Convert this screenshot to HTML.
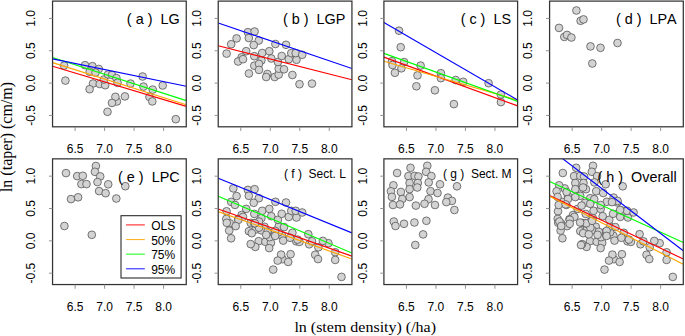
<!DOCTYPE html><html><head><meta charset="utf-8"><style>
html,body{margin:0;padding:0;background:#fff;}
svg{display:block;}
text{font-family:"Liberation Sans",sans-serif;font-kerning:none;}
.s{font-family:"Liberation Serif",serif;}
</style></head><body>
<svg width="685" height="336" viewBox="0 0 685 336">
<rect width="685" height="336" fill="#fff"/>
<defs>
<clipPath id="cpa"><rect x="52.55" y="1.10" width="133.70" height="125.70"/></clipPath>
<clipPath id="cpb"><rect x="218.23" y="1.10" width="133.70" height="125.70"/></clipPath>
<clipPath id="cpc"><rect x="383.91" y="1.10" width="133.70" height="125.70"/></clipPath>
<clipPath id="cpd"><rect x="549.59" y="1.10" width="133.70" height="125.70"/></clipPath>
<clipPath id="cpe"><rect x="52.55" y="158.85" width="133.70" height="125.70"/></clipPath>
<clipPath id="cpf"><rect x="218.23" y="158.85" width="133.70" height="125.70"/></clipPath>
<clipPath id="cpg"><rect x="383.91" y="158.85" width="133.70" height="125.70"/></clipPath>
<clipPath id="cph"><rect x="549.59" y="158.85" width="133.70" height="125.70"/></clipPath>
</defs>
<g clip-path="url(#cpa)" fill="#d3d3d3" stroke="#555" stroke-width="0.8">
<circle cx="64.1" cy="65.6" r="3.85"/>
<circle cx="65.4" cy="80.6" r="3.85"/>
<circle cx="85.0" cy="65.2" r="3.85"/>
<circle cx="92.4" cy="66.2" r="3.85"/>
<circle cx="98.8" cy="69.0" r="3.85"/>
<circle cx="89.7" cy="71.8" r="3.85"/>
<circle cx="95.5" cy="72.6" r="3.85"/>
<circle cx="93.0" cy="83.5" r="3.85"/>
<circle cx="89.6" cy="89.2" r="3.85"/>
<circle cx="99.7" cy="84.0" r="3.85"/>
<circle cx="105.2" cy="85.2" r="3.85"/>
<circle cx="104.0" cy="79.5" r="3.85"/>
<circle cx="108.0" cy="74.5" r="3.85"/>
<circle cx="112.0" cy="75.0" r="3.85"/>
<circle cx="116.4" cy="78.1" r="3.85"/>
<circle cx="117.5" cy="82.8" r="3.85"/>
<circle cx="130.5" cy="83.6" r="3.85"/>
<circle cx="142.6" cy="76.5" r="3.85"/>
<circle cx="143.5" cy="86.6" r="3.85"/>
<circle cx="152.7" cy="89.6" r="3.85"/>
<circle cx="162.7" cy="85.5" r="3.85"/>
<circle cx="116.9" cy="101.5" r="3.85"/>
<circle cx="115.4" cy="96.8" r="3.85"/>
<circle cx="124.9" cy="96.4" r="3.85"/>
<circle cx="112.0" cy="102.9" r="3.85"/>
<circle cx="107.5" cy="111.8" r="3.85"/>
<circle cx="149.5" cy="97.0" r="3.85"/>
<circle cx="152.3" cy="101.4" r="3.85"/>
<circle cx="175.8" cy="119.2" r="3.85"/>
</g>
<g clip-path="url(#cpa)" stroke-width="1.15" fill="none">
<line x1="52.55" y1="66.30" x2="186.25" y2="106.40" stroke="#ff0000"/>
<line x1="52.55" y1="62.60" x2="186.25" y2="104.70" stroke="#ffa500"/>
<line x1="52.55" y1="57.50" x2="186.25" y2="100.60" stroke="#00ff00"/>
<line x1="52.55" y1="58.90" x2="186.25" y2="86.30" stroke="#0000ff"/>
</g>
<rect x="52.55" y="1.10" width="133.70" height="125.70" fill="none" stroke="#333" stroke-width="1.25"/>
<path d="M48.95 115.44H52.55M48.95 83.10H52.55M48.95 50.77H52.55M48.95 18.43H52.55M75.10 126.80V131.00M104.59 126.80V131.00M134.08 126.80V131.00M163.57 126.80V131.00" stroke="#888" stroke-width="0.9" fill="none"/>
<text x="35.15" y="115.44" font-size="12" text-anchor="middle" transform="rotate(-90 35.15 115.44)">-0.5</text>
<text x="35.15" y="83.10" font-size="12" text-anchor="middle" transform="rotate(-90 35.15 83.10)">0.0</text>
<text x="35.15" y="50.77" font-size="12" text-anchor="middle" transform="rotate(-90 35.15 50.77)">0.5</text>
<text x="35.15" y="18.43" font-size="12" text-anchor="middle" transform="rotate(-90 35.15 18.43)">1.0</text>
<text x="75.10" y="153.20" font-size="12" text-anchor="middle">6.5</text>
<text x="104.59" y="153.20" font-size="12" text-anchor="middle">7.0</text>
<text x="134.08" y="153.20" font-size="12" text-anchor="middle">7.5</text>
<text x="163.57" y="153.20" font-size="12" text-anchor="middle">8.0</text>
<text x="179.65" y="24.00" font-size="14.4" text-anchor="end" xml:space="preserve" style="white-space:pre">( a )  LG</text>
<g clip-path="url(#cpb)" fill="#d3d3d3" stroke="#555" stroke-width="0.8">
<circle cx="226.6" cy="53.6" r="3.85"/>
<circle cx="231.2" cy="44.2" r="3.85"/>
<circle cx="236.6" cy="38.4" r="3.85"/>
<circle cx="247.9" cy="32.2" r="3.85"/>
<circle cx="254.6" cy="31.5" r="3.85"/>
<circle cx="248.8" cy="38.0" r="3.85"/>
<circle cx="258.8" cy="40.5" r="3.85"/>
<circle cx="253.7" cy="45.1" r="3.85"/>
<circle cx="246.2" cy="51.2" r="3.85"/>
<circle cx="241.6" cy="57.3" r="3.85"/>
<circle cx="238.1" cy="61.5" r="3.85"/>
<circle cx="243.0" cy="59.2" r="3.85"/>
<circle cx="254.3" cy="56.2" r="3.85"/>
<circle cx="261.4" cy="60.4" r="3.85"/>
<circle cx="262.2" cy="53.0" r="3.85"/>
<circle cx="269.3" cy="51.2" r="3.85"/>
<circle cx="271.3" cy="58.5" r="3.85"/>
<circle cx="254.3" cy="65.7" r="3.85"/>
<circle cx="259.0" cy="63.9" r="3.85"/>
<circle cx="259.0" cy="69.9" r="3.85"/>
<circle cx="248.9" cy="73.5" r="3.85"/>
<circle cx="267.4" cy="74.0" r="3.85"/>
<circle cx="266.2" cy="77.0" r="3.85"/>
<circle cx="274.7" cy="77.0" r="3.85"/>
<circle cx="278.7" cy="74.6" r="3.85"/>
<circle cx="278.7" cy="68.7" r="3.85"/>
<circle cx="284.0" cy="69.3" r="3.85"/>
<circle cx="277.9" cy="62.0" r="3.85"/>
<circle cx="281.7" cy="56.0" r="3.85"/>
<circle cx="275.4" cy="44.0" r="3.85"/>
<circle cx="286.0" cy="44.8" r="3.85"/>
<circle cx="288.8" cy="59.2" r="3.85"/>
<circle cx="296.5" cy="59.8" r="3.85"/>
<circle cx="291.3" cy="53.1" r="3.85"/>
<circle cx="295.7" cy="53.1" r="3.85"/>
<circle cx="302.2" cy="54.8" r="3.85"/>
<circle cx="292.4" cy="75.0" r="3.85"/>
<circle cx="299.5" cy="84.2" r="3.85"/>
<circle cx="312.0" cy="83.6" r="3.85"/>
</g>
<g clip-path="url(#cpb)" stroke-width="1.15" fill="none">
<line x1="218.23" y1="45.70" x2="351.93" y2="79.80" stroke="#ff0000"/>
<line x1="218.23" y1="23.00" x2="351.93" y2="68.50" stroke="#0000ff"/>
</g>
<rect x="218.23" y="1.10" width="133.70" height="125.70" fill="none" stroke="#333" stroke-width="1.25"/>
<path d="M214.63 115.44H218.23M214.63 83.10H218.23M214.63 50.77H218.23M214.63 18.43H218.23M240.78 126.80V131.00M270.27 126.80V131.00M299.76 126.80V131.00M329.25 126.80V131.00" stroke="#888" stroke-width="0.9" fill="none"/>
<text x="200.83" y="115.44" font-size="12" text-anchor="middle" transform="rotate(-90 200.83 115.44)">-0.5</text>
<text x="200.83" y="83.10" font-size="12" text-anchor="middle" transform="rotate(-90 200.83 83.10)">0.0</text>
<text x="200.83" y="50.77" font-size="12" text-anchor="middle" transform="rotate(-90 200.83 50.77)">0.5</text>
<text x="200.83" y="18.43" font-size="12" text-anchor="middle" transform="rotate(-90 200.83 18.43)">1.0</text>
<text x="240.78" y="153.20" font-size="12" text-anchor="middle">6.5</text>
<text x="270.27" y="153.20" font-size="12" text-anchor="middle">7.0</text>
<text x="299.76" y="153.20" font-size="12" text-anchor="middle">7.5</text>
<text x="329.25" y="153.20" font-size="12" text-anchor="middle">8.0</text>
<text x="345.33" y="24.00" font-size="14.4" text-anchor="end" xml:space="preserve" style="white-space:pre">( b )  LGP</text>
<g clip-path="url(#cpc)" fill="#d3d3d3" stroke="#555" stroke-width="0.8">
<circle cx="399.0" cy="30.7" r="3.85"/>
<circle cx="400.7" cy="47.2" r="3.85"/>
<circle cx="392.0" cy="61.2" r="3.85"/>
<circle cx="392.5" cy="65.0" r="3.85"/>
<circle cx="404.1" cy="62.1" r="3.85"/>
<circle cx="401.4" cy="68.3" r="3.85"/>
<circle cx="394.9" cy="72.8" r="3.85"/>
<circle cx="420.6" cy="65.6" r="3.85"/>
<circle cx="417.5" cy="75.4" r="3.85"/>
<circle cx="416.4" cy="86.3" r="3.85"/>
<circle cx="434.9" cy="90.3" r="3.85"/>
<circle cx="440.9" cy="73.2" r="3.85"/>
<circle cx="440.9" cy="78.2" r="3.85"/>
<circle cx="455.7" cy="80.0" r="3.85"/>
<circle cx="463.2" cy="81.8" r="3.85"/>
<circle cx="453.9" cy="104.1" r="3.85"/>
<circle cx="488.6" cy="83.2" r="3.85"/>
<circle cx="500.9" cy="94.6" r="3.85"/>
<circle cx="500.9" cy="102.1" r="3.85"/>
</g>
<g clip-path="url(#cpc)" stroke-width="1.15" fill="none">
<line x1="383.91" y1="57.10" x2="517.61" y2="105.90" stroke="#ff0000"/>
<line x1="383.91" y1="61.20" x2="517.61" y2="100.10" stroke="#ffa500"/>
<line x1="383.91" y1="53.40" x2="517.61" y2="101.40" stroke="#00ff00"/>
<line x1="383.91" y1="22.40" x2="517.61" y2="100.00" stroke="#0000ff"/>
</g>
<rect x="383.91" y="1.10" width="133.70" height="125.70" fill="none" stroke="#333" stroke-width="1.25"/>
<path d="M380.31 115.44H383.91M380.31 83.10H383.91M380.31 50.77H383.91M380.31 18.43H383.91M406.46 126.80V131.00M435.95 126.80V131.00M465.44 126.80V131.00M494.93 126.80V131.00" stroke="#888" stroke-width="0.9" fill="none"/>
<text x="366.51" y="115.44" font-size="12" text-anchor="middle" transform="rotate(-90 366.51 115.44)">-0.5</text>
<text x="366.51" y="83.10" font-size="12" text-anchor="middle" transform="rotate(-90 366.51 83.10)">0.0</text>
<text x="366.51" y="50.77" font-size="12" text-anchor="middle" transform="rotate(-90 366.51 50.77)">0.5</text>
<text x="366.51" y="18.43" font-size="12" text-anchor="middle" transform="rotate(-90 366.51 18.43)">1.0</text>
<text x="406.46" y="153.20" font-size="12" text-anchor="middle">6.5</text>
<text x="435.95" y="153.20" font-size="12" text-anchor="middle">7.0</text>
<text x="465.44" y="153.20" font-size="12" text-anchor="middle">7.5</text>
<text x="494.93" y="153.20" font-size="12" text-anchor="middle">8.0</text>
<text x="511.01" y="24.00" font-size="14.4" text-anchor="end" xml:space="preserve" style="white-space:pre">( c )  LS</text>
<g clip-path="url(#cpd)" fill="#d3d3d3" stroke="#555" stroke-width="0.8">
<circle cx="576.4" cy="10.5" r="3.85"/>
<circle cx="580.6" cy="20.8" r="3.85"/>
<circle cx="583.5" cy="19.4" r="3.85"/>
<circle cx="559.0" cy="27.9" r="3.85"/>
<circle cx="564.3" cy="36.9" r="3.85"/>
<circle cx="567.0" cy="34.9" r="3.85"/>
<circle cx="571.4" cy="37.5" r="3.85"/>
<circle cx="590.5" cy="46.4" r="3.85"/>
<circle cx="600.5" cy="47.8" r="3.85"/>
<circle cx="617.5" cy="43.0" r="3.85"/>
<circle cx="592.3" cy="63.5" r="3.85"/>
</g>
<rect x="549.59" y="1.10" width="133.70" height="125.70" fill="none" stroke="#333" stroke-width="1.25"/>
<path d="M545.99 115.44H549.59M545.99 83.10H549.59M545.99 50.77H549.59M545.99 18.43H549.59M572.14 126.80V131.00M601.63 126.80V131.00M631.12 126.80V131.00M660.61 126.80V131.00" stroke="#888" stroke-width="0.9" fill="none"/>
<text x="532.19" y="115.44" font-size="12" text-anchor="middle" transform="rotate(-90 532.19 115.44)">-0.5</text>
<text x="532.19" y="83.10" font-size="12" text-anchor="middle" transform="rotate(-90 532.19 83.10)">0.0</text>
<text x="532.19" y="50.77" font-size="12" text-anchor="middle" transform="rotate(-90 532.19 50.77)">0.5</text>
<text x="532.19" y="18.43" font-size="12" text-anchor="middle" transform="rotate(-90 532.19 18.43)">1.0</text>
<text x="572.14" y="153.20" font-size="12" text-anchor="middle">6.5</text>
<text x="601.63" y="153.20" font-size="12" text-anchor="middle">7.0</text>
<text x="631.12" y="153.20" font-size="12" text-anchor="middle">7.5</text>
<text x="660.61" y="153.20" font-size="12" text-anchor="middle">8.0</text>
<text x="676.69" y="24.00" font-size="14.4" text-anchor="end" xml:space="preserve" style="white-space:pre">( d )  LPA</text>
<g clip-path="url(#cpe)" fill="#d3d3d3" stroke="#555" stroke-width="0.8">
<circle cx="66.0" cy="173.1" r="3.85"/>
<circle cx="77.2" cy="176.1" r="3.85"/>
<circle cx="82.8" cy="175.8" r="3.85"/>
<circle cx="81.4" cy="184.1" r="3.85"/>
<circle cx="86.5" cy="184.1" r="3.85"/>
<circle cx="95.9" cy="166.0" r="3.85"/>
<circle cx="94.9" cy="171.8" r="3.85"/>
<circle cx="100.2" cy="176.4" r="3.85"/>
<circle cx="97.5" cy="182.1" r="3.85"/>
<circle cx="108.2" cy="184.3" r="3.85"/>
<circle cx="99.1" cy="191.1" r="3.85"/>
<circle cx="105.6" cy="193.2" r="3.85"/>
<circle cx="71.0" cy="199.1" r="3.85"/>
<circle cx="78.1" cy="197.3" r="3.85"/>
<circle cx="125.3" cy="186.2" r="3.85"/>
<circle cx="116.3" cy="198.5" r="3.85"/>
<circle cx="64.4" cy="226.0" r="3.85"/>
<circle cx="91.8" cy="234.8" r="3.85"/>
</g>
<rect x="52.55" y="158.85" width="133.70" height="125.70" fill="none" stroke="#333" stroke-width="1.25"/>
<path d="M48.95 273.19H52.55M48.95 240.85H52.55M48.95 208.52H52.55M48.95 176.18H52.55M75.10 284.55V288.75M104.59 284.55V288.75M134.08 284.55V288.75M163.57 284.55V288.75" stroke="#888" stroke-width="0.9" fill="none"/>
<text x="35.15" y="273.19" font-size="12" text-anchor="middle" transform="rotate(-90 35.15 273.19)">-0.5</text>
<text x="35.15" y="240.85" font-size="12" text-anchor="middle" transform="rotate(-90 35.15 240.85)">0.0</text>
<text x="35.15" y="208.52" font-size="12" text-anchor="middle" transform="rotate(-90 35.15 208.52)">0.5</text>
<text x="35.15" y="176.18" font-size="12" text-anchor="middle" transform="rotate(-90 35.15 176.18)">1.0</text>
<text x="75.10" y="310.95" font-size="12" text-anchor="middle">6.5</text>
<text x="104.59" y="310.95" font-size="12" text-anchor="middle">7.0</text>
<text x="134.08" y="310.95" font-size="12" text-anchor="middle">7.5</text>
<text x="163.57" y="310.95" font-size="12" text-anchor="middle">8.0</text>
<text x="179.65" y="181.75" font-size="14.4" text-anchor="end" xml:space="preserve" style="white-space:pre">( e )  LPC</text>
<g clip-path="url(#cpf)" fill="#d3d3d3" stroke="#555" stroke-width="0.8">
<circle cx="229.8" cy="223.3" r="3.85"/>
<circle cx="231.1" cy="238.3" r="3.85"/>
<circle cx="250.7" cy="222.9" r="3.85"/>
<circle cx="258.1" cy="223.9" r="3.85"/>
<circle cx="264.5" cy="226.8" r="3.85"/>
<circle cx="255.4" cy="229.6" r="3.85"/>
<circle cx="261.2" cy="230.3" r="3.85"/>
<circle cx="258.7" cy="241.2" r="3.85"/>
<circle cx="255.3" cy="246.9" r="3.85"/>
<circle cx="265.4" cy="241.8" r="3.85"/>
<circle cx="270.9" cy="242.9" r="3.85"/>
<circle cx="269.7" cy="237.2" r="3.85"/>
<circle cx="273.7" cy="232.2" r="3.85"/>
<circle cx="277.7" cy="232.8" r="3.85"/>
<circle cx="282.1" cy="235.8" r="3.85"/>
<circle cx="283.2" cy="240.6" r="3.85"/>
<circle cx="296.2" cy="241.3" r="3.85"/>
<circle cx="308.3" cy="234.2" r="3.85"/>
<circle cx="309.2" cy="244.3" r="3.85"/>
<circle cx="318.4" cy="247.3" r="3.85"/>
<circle cx="328.4" cy="243.2" r="3.85"/>
<circle cx="282.6" cy="259.2" r="3.85"/>
<circle cx="281.1" cy="254.6" r="3.85"/>
<circle cx="290.6" cy="254.2" r="3.85"/>
<circle cx="277.7" cy="260.6" r="3.85"/>
<circle cx="273.2" cy="269.6" r="3.85"/>
<circle cx="315.2" cy="254.8" r="3.85"/>
<circle cx="318.0" cy="259.1" r="3.85"/>
<circle cx="341.5" cy="276.9" r="3.85"/>
<circle cx="226.6" cy="211.3" r="3.85"/>
<circle cx="231.2" cy="201.9" r="3.85"/>
<circle cx="236.6" cy="196.1" r="3.85"/>
<circle cx="247.9" cy="189.9" r="3.85"/>
<circle cx="254.6" cy="189.2" r="3.85"/>
<circle cx="248.8" cy="195.8" r="3.85"/>
<circle cx="258.8" cy="198.2" r="3.85"/>
<circle cx="253.7" cy="202.8" r="3.85"/>
<circle cx="246.2" cy="208.9" r="3.85"/>
<circle cx="241.6" cy="215.0" r="3.85"/>
<circle cx="238.1" cy="219.2" r="3.85"/>
<circle cx="243.0" cy="216.9" r="3.85"/>
<circle cx="254.3" cy="213.9" r="3.85"/>
<circle cx="261.4" cy="218.1" r="3.85"/>
<circle cx="262.2" cy="210.8" r="3.85"/>
<circle cx="269.3" cy="208.9" r="3.85"/>
<circle cx="271.3" cy="216.2" r="3.85"/>
<circle cx="254.3" cy="223.4" r="3.85"/>
<circle cx="259.0" cy="221.6" r="3.85"/>
<circle cx="259.0" cy="227.7" r="3.85"/>
<circle cx="248.9" cy="231.2" r="3.85"/>
<circle cx="267.4" cy="231.8" r="3.85"/>
<circle cx="266.2" cy="234.8" r="3.85"/>
<circle cx="274.7" cy="234.8" r="3.85"/>
<circle cx="278.7" cy="232.3" r="3.85"/>
<circle cx="278.7" cy="226.4" r="3.85"/>
<circle cx="284.0" cy="227.1" r="3.85"/>
<circle cx="277.9" cy="219.8" r="3.85"/>
<circle cx="281.7" cy="213.8" r="3.85"/>
<circle cx="275.4" cy="201.8" r="3.85"/>
<circle cx="286.0" cy="202.5" r="3.85"/>
<circle cx="288.8" cy="216.9" r="3.85"/>
<circle cx="296.5" cy="217.5" r="3.85"/>
<circle cx="291.3" cy="210.8" r="3.85"/>
<circle cx="295.7" cy="210.8" r="3.85"/>
<circle cx="302.2" cy="212.5" r="3.85"/>
<circle cx="292.4" cy="232.8" r="3.85"/>
<circle cx="299.5" cy="241.9" r="3.85"/>
<circle cx="312.0" cy="241.3" r="3.85"/>
<circle cx="233.3" cy="188.4" r="3.85"/>
<circle cx="235.0" cy="204.9" r="3.85"/>
<circle cx="226.3" cy="218.9" r="3.85"/>
<circle cx="226.8" cy="222.8" r="3.85"/>
<circle cx="238.4" cy="219.8" r="3.85"/>
<circle cx="235.7" cy="226.1" r="3.85"/>
<circle cx="229.2" cy="230.6" r="3.85"/>
<circle cx="254.9" cy="223.3" r="3.85"/>
<circle cx="251.8" cy="233.2" r="3.85"/>
<circle cx="250.7" cy="244.1" r="3.85"/>
<circle cx="269.2" cy="248.1" r="3.85"/>
<circle cx="275.2" cy="230.9" r="3.85"/>
<circle cx="275.2" cy="235.9" r="3.85"/>
<circle cx="290.0" cy="237.8" r="3.85"/>
<circle cx="297.5" cy="239.6" r="3.85"/>
<circle cx="288.2" cy="261.9" r="3.85"/>
<circle cx="322.9" cy="240.9" r="3.85"/>
<circle cx="335.2" cy="252.3" r="3.85"/>
<circle cx="335.2" cy="259.9" r="3.85"/>
</g>
<g clip-path="url(#cpf)" stroke-width="1.15" fill="none">
<line x1="218.23" y1="209.00" x2="351.93" y2="256.20" stroke="#ff0000"/>
<line x1="218.23" y1="211.60" x2="351.93" y2="259.00" stroke="#ffa500"/>
<line x1="218.23" y1="196.30" x2="351.93" y2="253.00" stroke="#00ff00"/>
<line x1="218.23" y1="178.30" x2="351.93" y2="232.90" stroke="#0000ff"/>
</g>
<rect x="218.23" y="158.85" width="133.70" height="125.70" fill="none" stroke="#333" stroke-width="1.25"/>
<path d="M214.63 273.19H218.23M214.63 240.85H218.23M214.63 208.52H218.23M214.63 176.18H218.23M240.78 284.55V288.75M270.27 284.55V288.75M299.76 284.55V288.75M329.25 284.55V288.75" stroke="#888" stroke-width="0.9" fill="none"/>
<text x="200.83" y="273.19" font-size="12" text-anchor="middle" transform="rotate(-90 200.83 273.19)">-0.5</text>
<text x="200.83" y="240.85" font-size="12" text-anchor="middle" transform="rotate(-90 200.83 240.85)">0.0</text>
<text x="200.83" y="208.52" font-size="12" text-anchor="middle" transform="rotate(-90 200.83 208.52)">0.5</text>
<text x="200.83" y="176.18" font-size="12" text-anchor="middle" transform="rotate(-90 200.83 176.18)">1.0</text>
<text x="240.78" y="310.95" font-size="12" text-anchor="middle">6.5</text>
<text x="270.27" y="310.95" font-size="12" text-anchor="middle">7.0</text>
<text x="299.76" y="310.95" font-size="12" text-anchor="middle">7.5</text>
<text x="329.25" y="310.95" font-size="12" text-anchor="middle">8.0</text>
<text x="345.93" y="178.25" font-size="12" text-anchor="end" xml:space="preserve" style="white-space:pre">( f )  Sect. L</text>
<g clip-path="url(#cpg)" fill="#d3d3d3" stroke="#555" stroke-width="0.8">
<circle cx="397.1" cy="173.0" r="3.85"/>
<circle cx="410.5" cy="167.8" r="3.85"/>
<circle cx="408.4" cy="176.1" r="3.85"/>
<circle cx="414.6" cy="175.9" r="3.85"/>
<circle cx="418.4" cy="176.5" r="3.85"/>
<circle cx="409.6" cy="183.0" r="3.85"/>
<circle cx="417.8" cy="183.0" r="3.85"/>
<circle cx="409.6" cy="189.2" r="3.85"/>
<circle cx="417.3" cy="187.5" r="3.85"/>
<circle cx="393.4" cy="185.3" r="3.85"/>
<circle cx="390.9" cy="191.3" r="3.85"/>
<circle cx="400.9" cy="192.0" r="3.85"/>
<circle cx="391.9" cy="196.9" r="3.85"/>
<circle cx="409.6" cy="197.1" r="3.85"/>
<circle cx="402.3" cy="199.0" r="3.85"/>
<circle cx="427.3" cy="165.8" r="3.85"/>
<circle cx="426.1" cy="171.8" r="3.85"/>
<circle cx="431.4" cy="176.1" r="3.85"/>
<circle cx="428.7" cy="182.4" r="3.85"/>
<circle cx="430.5" cy="191.2" r="3.85"/>
<circle cx="428.5" cy="199.2" r="3.85"/>
<circle cx="393.0" cy="205.0" r="3.85"/>
<circle cx="400.0" cy="204.4" r="3.85"/>
<circle cx="415.9" cy="205.6" r="3.85"/>
<circle cx="424.5" cy="203.8" r="3.85"/>
<circle cx="440.0" cy="184.3" r="3.85"/>
<circle cx="457.0" cy="186.3" r="3.85"/>
<circle cx="437.5" cy="193.0" r="3.85"/>
<circle cx="447.9" cy="197.6" r="3.85"/>
<circle cx="451.9" cy="200.9" r="3.85"/>
<circle cx="446.3" cy="202.1" r="3.85"/>
<circle cx="435.0" cy="205.0" r="3.85"/>
<circle cx="454.4" cy="210.0" r="3.85"/>
<circle cx="393.8" cy="221.5" r="3.85"/>
<circle cx="395.5" cy="226.0" r="3.85"/>
<circle cx="404.0" cy="223.8" r="3.85"/>
<circle cx="414.4" cy="222.5" r="3.85"/>
<circle cx="426.4" cy="220.8" r="3.85"/>
<circle cx="423.1" cy="234.4" r="3.85"/>
<circle cx="415.3" cy="245.0" r="3.85"/>
</g>
<rect x="383.91" y="158.85" width="133.70" height="125.70" fill="none" stroke="#333" stroke-width="1.25"/>
<path d="M380.31 273.19H383.91M380.31 240.85H383.91M380.31 208.52H383.91M380.31 176.18H383.91M406.46 284.55V288.75M435.95 284.55V288.75M465.44 284.55V288.75M494.93 284.55V288.75" stroke="#888" stroke-width="0.9" fill="none"/>
<text x="366.51" y="273.19" font-size="12" text-anchor="middle" transform="rotate(-90 366.51 273.19)">-0.5</text>
<text x="366.51" y="240.85" font-size="12" text-anchor="middle" transform="rotate(-90 366.51 240.85)">0.0</text>
<text x="366.51" y="208.52" font-size="12" text-anchor="middle" transform="rotate(-90 366.51 208.52)">0.5</text>
<text x="366.51" y="176.18" font-size="12" text-anchor="middle" transform="rotate(-90 366.51 176.18)">1.0</text>
<text x="406.46" y="310.95" font-size="12" text-anchor="middle">6.5</text>
<text x="435.95" y="310.95" font-size="12" text-anchor="middle">7.0</text>
<text x="465.44" y="310.95" font-size="12" text-anchor="middle">7.5</text>
<text x="494.93" y="310.95" font-size="12" text-anchor="middle">8.0</text>
<text x="511.61" y="178.25" font-size="12" text-anchor="end" xml:space="preserve" style="white-space:pre">( g )  Sect. M</text>
<g clip-path="url(#cph)" fill="#d3d3d3" stroke="#555" stroke-width="0.8">
<circle cx="561.1" cy="223.3" r="3.85"/>
<circle cx="562.4" cy="238.3" r="3.85"/>
<circle cx="582.0" cy="222.9" r="3.85"/>
<circle cx="589.4" cy="223.9" r="3.85"/>
<circle cx="595.8" cy="226.8" r="3.85"/>
<circle cx="586.7" cy="229.6" r="3.85"/>
<circle cx="592.5" cy="230.3" r="3.85"/>
<circle cx="590.0" cy="241.2" r="3.85"/>
<circle cx="586.6" cy="246.9" r="3.85"/>
<circle cx="596.7" cy="241.8" r="3.85"/>
<circle cx="602.2" cy="242.9" r="3.85"/>
<circle cx="601.0" cy="237.2" r="3.85"/>
<circle cx="605.0" cy="232.2" r="3.85"/>
<circle cx="609.0" cy="232.8" r="3.85"/>
<circle cx="613.4" cy="235.8" r="3.85"/>
<circle cx="614.5" cy="240.6" r="3.85"/>
<circle cx="627.5" cy="241.3" r="3.85"/>
<circle cx="639.6" cy="234.2" r="3.85"/>
<circle cx="640.5" cy="244.3" r="3.85"/>
<circle cx="649.7" cy="247.3" r="3.85"/>
<circle cx="659.7" cy="243.2" r="3.85"/>
<circle cx="613.9" cy="259.2" r="3.85"/>
<circle cx="612.4" cy="254.6" r="3.85"/>
<circle cx="621.9" cy="254.2" r="3.85"/>
<circle cx="609.0" cy="260.6" r="3.85"/>
<circle cx="604.5" cy="269.6" r="3.85"/>
<circle cx="646.5" cy="254.8" r="3.85"/>
<circle cx="649.3" cy="259.1" r="3.85"/>
<circle cx="672.8" cy="276.9" r="3.85"/>
<circle cx="558.0" cy="211.3" r="3.85"/>
<circle cx="562.6" cy="201.9" r="3.85"/>
<circle cx="568.0" cy="196.1" r="3.85"/>
<circle cx="579.3" cy="189.9" r="3.85"/>
<circle cx="586.0" cy="189.2" r="3.85"/>
<circle cx="580.2" cy="195.8" r="3.85"/>
<circle cx="590.2" cy="198.2" r="3.85"/>
<circle cx="585.1" cy="202.8" r="3.85"/>
<circle cx="577.6" cy="208.9" r="3.85"/>
<circle cx="573.0" cy="215.0" r="3.85"/>
<circle cx="569.5" cy="219.2" r="3.85"/>
<circle cx="574.4" cy="216.9" r="3.85"/>
<circle cx="585.7" cy="213.9" r="3.85"/>
<circle cx="592.8" cy="218.1" r="3.85"/>
<circle cx="593.6" cy="210.8" r="3.85"/>
<circle cx="600.7" cy="208.9" r="3.85"/>
<circle cx="602.7" cy="216.2" r="3.85"/>
<circle cx="585.7" cy="223.4" r="3.85"/>
<circle cx="590.4" cy="221.6" r="3.85"/>
<circle cx="590.4" cy="227.7" r="3.85"/>
<circle cx="580.3" cy="231.2" r="3.85"/>
<circle cx="598.8" cy="231.8" r="3.85"/>
<circle cx="597.6" cy="234.8" r="3.85"/>
<circle cx="606.1" cy="234.8" r="3.85"/>
<circle cx="610.1" cy="232.3" r="3.85"/>
<circle cx="610.1" cy="226.4" r="3.85"/>
<circle cx="615.4" cy="227.1" r="3.85"/>
<circle cx="609.3" cy="219.8" r="3.85"/>
<circle cx="613.1" cy="213.8" r="3.85"/>
<circle cx="606.8" cy="201.8" r="3.85"/>
<circle cx="617.4" cy="202.5" r="3.85"/>
<circle cx="620.2" cy="216.9" r="3.85"/>
<circle cx="627.9" cy="217.5" r="3.85"/>
<circle cx="622.7" cy="210.8" r="3.85"/>
<circle cx="627.1" cy="210.8" r="3.85"/>
<circle cx="633.6" cy="212.5" r="3.85"/>
<circle cx="623.8" cy="232.8" r="3.85"/>
<circle cx="630.9" cy="241.9" r="3.85"/>
<circle cx="643.4" cy="241.3" r="3.85"/>
<circle cx="564.7" cy="188.4" r="3.85"/>
<circle cx="566.4" cy="204.9" r="3.85"/>
<circle cx="557.7" cy="218.9" r="3.85"/>
<circle cx="558.2" cy="222.8" r="3.85"/>
<circle cx="569.8" cy="219.8" r="3.85"/>
<circle cx="567.1" cy="226.1" r="3.85"/>
<circle cx="560.6" cy="230.6" r="3.85"/>
<circle cx="586.3" cy="223.3" r="3.85"/>
<circle cx="583.2" cy="233.2" r="3.85"/>
<circle cx="582.1" cy="244.1" r="3.85"/>
<circle cx="600.6" cy="248.1" r="3.85"/>
<circle cx="606.6" cy="230.9" r="3.85"/>
<circle cx="606.6" cy="235.9" r="3.85"/>
<circle cx="621.4" cy="237.8" r="3.85"/>
<circle cx="628.9" cy="239.6" r="3.85"/>
<circle cx="619.6" cy="261.9" r="3.85"/>
<circle cx="654.3" cy="240.9" r="3.85"/>
<circle cx="666.6" cy="252.3" r="3.85"/>
<circle cx="666.6" cy="259.9" r="3.85"/>
<circle cx="562.8" cy="173.0" r="3.85"/>
<circle cx="576.2" cy="167.8" r="3.85"/>
<circle cx="574.1" cy="176.1" r="3.85"/>
<circle cx="580.3" cy="175.9" r="3.85"/>
<circle cx="584.1" cy="176.5" r="3.85"/>
<circle cx="575.3" cy="183.0" r="3.85"/>
<circle cx="583.5" cy="183.0" r="3.85"/>
<circle cx="575.3" cy="189.2" r="3.85"/>
<circle cx="583.0" cy="187.5" r="3.85"/>
<circle cx="559.1" cy="185.3" r="3.85"/>
<circle cx="556.6" cy="191.3" r="3.85"/>
<circle cx="566.6" cy="192.0" r="3.85"/>
<circle cx="557.6" cy="196.9" r="3.85"/>
<circle cx="575.3" cy="197.1" r="3.85"/>
<circle cx="568.0" cy="199.0" r="3.85"/>
<circle cx="593.0" cy="165.8" r="3.85"/>
<circle cx="591.8" cy="171.8" r="3.85"/>
<circle cx="597.1" cy="176.1" r="3.85"/>
<circle cx="594.4" cy="182.4" r="3.85"/>
<circle cx="596.2" cy="191.2" r="3.85"/>
<circle cx="594.2" cy="199.2" r="3.85"/>
<circle cx="558.7" cy="205.0" r="3.85"/>
<circle cx="565.7" cy="204.4" r="3.85"/>
<circle cx="581.6" cy="205.6" r="3.85"/>
<circle cx="590.2" cy="203.8" r="3.85"/>
<circle cx="605.7" cy="184.3" r="3.85"/>
<circle cx="622.7" cy="186.3" r="3.85"/>
<circle cx="603.2" cy="193.0" r="3.85"/>
<circle cx="613.6" cy="197.6" r="3.85"/>
<circle cx="617.6" cy="200.9" r="3.85"/>
<circle cx="612.0" cy="202.1" r="3.85"/>
<circle cx="600.7" cy="205.0" r="3.85"/>
<circle cx="620.1" cy="210.0" r="3.85"/>
<circle cx="559.4" cy="221.5" r="3.85"/>
<circle cx="561.2" cy="226.0" r="3.85"/>
<circle cx="569.7" cy="223.8" r="3.85"/>
<circle cx="580.1" cy="222.5" r="3.85"/>
<circle cx="592.1" cy="220.8" r="3.85"/>
<circle cx="588.8" cy="234.4" r="3.85"/>
<circle cx="581.0" cy="245.0" r="3.85"/>
</g>
<g clip-path="url(#cph)" stroke-width="1.15" fill="none">
<line x1="549.59" y1="195.50" x2="683.29" y2="259.00" stroke="#ff0000"/>
<line x1="549.59" y1="196.30" x2="683.29" y2="264.30" stroke="#ffa500"/>
<line x1="549.59" y1="181.50" x2="683.29" y2="242.60" stroke="#00ff00"/>
<line x1="549.59" y1="148.70" x2="683.29" y2="250.80" stroke="#0000ff"/>
</g>
<rect x="549.59" y="158.85" width="133.70" height="125.70" fill="none" stroke="#333" stroke-width="1.25"/>
<path d="M545.99 273.19H549.59M545.99 240.85H549.59M545.99 208.52H549.59M545.99 176.18H549.59M572.14 284.55V288.75M601.63 284.55V288.75M631.12 284.55V288.75M660.61 284.55V288.75" stroke="#888" stroke-width="0.9" fill="none"/>
<text x="532.19" y="273.19" font-size="12" text-anchor="middle" transform="rotate(-90 532.19 273.19)">-0.5</text>
<text x="532.19" y="240.85" font-size="12" text-anchor="middle" transform="rotate(-90 532.19 240.85)">0.0</text>
<text x="532.19" y="208.52" font-size="12" text-anchor="middle" transform="rotate(-90 532.19 208.52)">0.5</text>
<text x="532.19" y="176.18" font-size="12" text-anchor="middle" transform="rotate(-90 532.19 176.18)">1.0</text>
<text x="572.14" y="310.95" font-size="12" text-anchor="middle">6.5</text>
<text x="601.63" y="310.95" font-size="12" text-anchor="middle">7.0</text>
<text x="631.12" y="310.95" font-size="12" text-anchor="middle">7.5</text>
<text x="660.61" y="310.95" font-size="12" text-anchor="middle">8.0</text>
<text x="676.69" y="181.75" font-size="14.4" text-anchor="end" xml:space="preserve" style="white-space:pre">( h )  Overall</text>
<rect x="121.0" y="215.7" width="60.1" height="62.3" fill="#fff" stroke="#222" stroke-width="1.05"/>
<line x1="126.1" y1="224.90" x2="144.8" y2="224.90" stroke="#ff0000" stroke-width="1.1" opacity="0.85"/>
<text x="151.2" y="230.10" font-size="12">OLS</text>
<line x1="126.1" y1="239.53" x2="144.8" y2="239.53" stroke="#ffa500" stroke-width="1.1" opacity="0.85"/>
<text x="151.2" y="244.73" font-size="12">50%</text>
<line x1="126.1" y1="254.16" x2="144.8" y2="254.16" stroke="#00ff00" stroke-width="1.1" opacity="0.85"/>
<text x="151.2" y="259.36" font-size="12">75%</text>
<line x1="126.1" y1="268.79" x2="144.8" y2="268.79" stroke="#0000ff" stroke-width="1.1" opacity="0.85"/>
<text x="151.2" y="273.99" font-size="12">95%</text>
<text class="s" x="0" y="0" font-size="14" text-anchor="middle" transform="translate(365.2 332.1) scale(1.143 1)">ln (stem density) (/ha)</text>
<text class="s" x="12" y="137" font-size="16" text-anchor="middle" transform="rotate(-90 12 137)">ln (taper) (cm/m)</text>
</svg></body></html>
